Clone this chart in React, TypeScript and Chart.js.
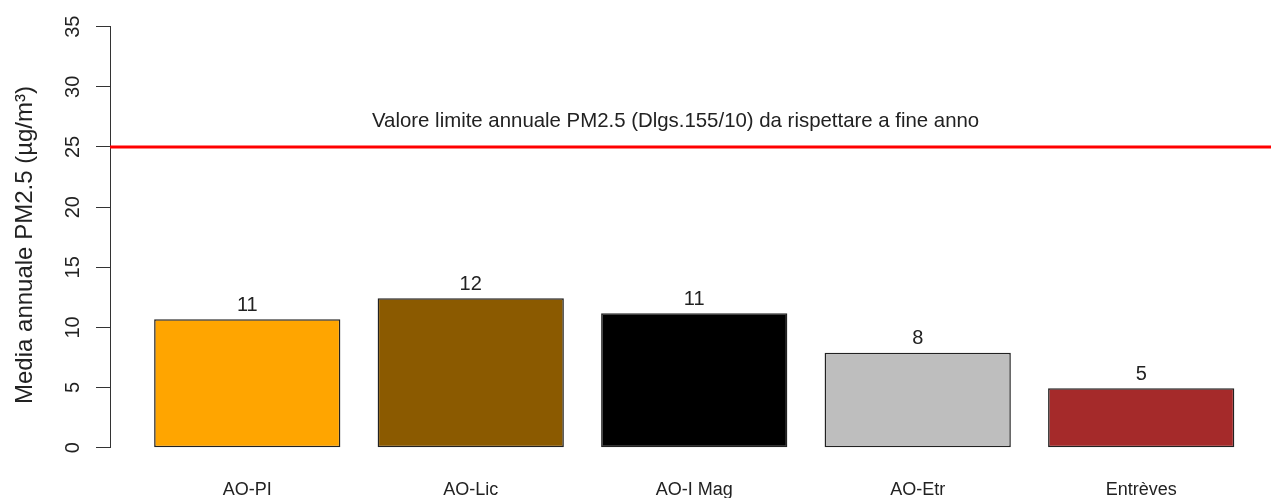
import React, { useEffect, useRef } from "react";
import { Chart, registerables } from "chart.js";

Chart.register(...registerables);

// ---- data ----
const categories = ["AO-PI", "AO-Lic", "AO-I Mag", "AO-Etr", "Entrèves"];
const values = [10.67, 12.42, 11.17, 7.9, 4.94];
const barColors = ["#FFA500", "#8B5A00", "#000000", "#BEBEBE", "#A52A2A"];
const yTicks = [0, 5, 10, 15, 20, 25, 30, 35];
const limitValue = 25;
const limitLabel = "Valore limite annuale PM2.5 (Dlgs.155/10) da rispettare a fine anno";
const limitLabelX = 3.0;
const limitLabelY = 27.1;
const yTitle = "Media annuale PM2.5 (µg/m³)";

// ---- layout (R barplot style: width 1, space 0.2) ----
const BAR_SPACE = 0.2;
const barX = (i: number) => BAR_SPACE + i * (1 + BAR_SPACE) + 0.5;
const FONT = "'Liberation Sans', Arial, Helvetica, sans-serif";
const W = 1271;
const H = 510;
const PLOT_TOP = 26.7;
const PLOT_BOTTOM = 447.7;
const PLOT_LEFT = 110;
const TEXT = "#222222";

const overlayPlugin = {
  id: "overlay",
  afterDatasetsDraw(chart: any) {
    const { ctx, chartArea, scales } = chart;
    const x = scales.x;
    const y = scales.y;
    const yl = y.getPixelForValue(limitValue);
    ctx.save();
    ctx.strokeStyle = "#FF0000";
    ctx.lineWidth = 3;
    ctx.beginPath();
    ctx.moveTo(chartArea.left, yl);
    ctx.lineTo(chartArea.right, yl);
    ctx.stroke();

    ctx.fillStyle = TEXT;
    ctx.textAlign = "center";
    ctx.textBaseline = "middle";
    ctx.font = `20.4px ${FONT}`;
    ctx.fillText(limitLabel, x.getPixelForValue(limitLabelX), y.getPixelForValue(limitLabelY));

    ctx.font = `20px ${FONT}`;
    const meta = chart.getDatasetMeta(0);
    meta.data.forEach((bar: any, i: number) => {
      ctx.fillText(String(Math.round(values[i])), bar.x, bar.y - 14);
    });

    // y-axis title (R places it centred on the plot region)
    ctx.font = `24px ${FONT}`;
    ctx.translate(25, 245);
    ctx.rotate(-Math.PI / 2);
    ctx.fillText(yTitle, 0, 0);
    ctx.restore();
  },
};

export default function App() {
  const canvasRef = useRef<HTMLCanvasElement | null>(null);

  useEffect(() => {
    document.body.style.margin = "0";
    document.documentElement.style.overflow = "hidden";
    const canvas = canvasRef.current;
    if (!canvas) return;

    const chart = new Chart(canvas, {
      type: "bar",
      data: {
        datasets: [
          {
            data: categories.map((_, i) => ({ x: barX(i), y: values[i] })),
            backgroundColor: barColors,
            borderColor: "#222222",
            borderWidth: 1.5,
            borderSkipped: false,
            categoryPercentage: 1 / (1 + BAR_SPACE),
            barPercentage: 1,
          },
        ],
      },
      options: {
        animation: false,
        responsive: false,
        maintainAspectRatio: false,
        layout: { padding: { top: PLOT_TOP, left: 0, right: 0, bottom: 0 } },
        plugins: {
          legend: { display: false },
          tooltip: { enabled: false },
          title: { display: false },
        },
        scales: {
          x: {
            type: "linear",
            min: -0.037,
            max: 6.197,
            offset: false,
            grid: { display: false, drawTicks: false },
            border: { display: false },
            afterBuildTicks: (s: any) => {
              s.ticks = categories.map((_, i) => ({ value: barX(i) }));
            },
            ticks: {
              autoSkip: false,
              maxRotation: 0,
              minRotation: 0,
              padding: 31.5,
              color: TEXT,
              font: { size: 18, family: FONT },
              callback: (_v: any, i: number) => categories[i],
            },
            afterFit: (s: any) => {
              s.height = H - PLOT_BOTTOM;
            },
          },
          y: {
            min: 0,
            max: 35,
            afterBuildTicks: (s: any) => {
              s.ticks = yTicks.map((v) => ({ value: v }));
            },
            grid: {
              drawOnChartArea: false,
              drawTicks: true,
              tickLength: 14,
              tickColor: "#333333",
              tickWidth: 1,
            },
            border: { display: true, color: "#333333", width: 1 },
            ticks: {
              minRotation: 90,
              maxRotation: 90,
              crossAlign: "center",
              padding: 11,
              color: TEXT,
              font: { size: 20, family: FONT },
            },
            title: { display: false },
            afterFit: (s: any) => {
              s.width = PLOT_LEFT;
            },
          },
        },
      } as any,
      plugins: [overlayPlugin],
    });

    return () => chart.destroy();
  }, []);

  return (
    <div style={{ width: W, height: 498, overflow: "hidden", background: "#ffffff" }}>
      <canvas ref={canvasRef} width={W} height={H} style={{ display: "block" }} />
    </div>
  );
}
